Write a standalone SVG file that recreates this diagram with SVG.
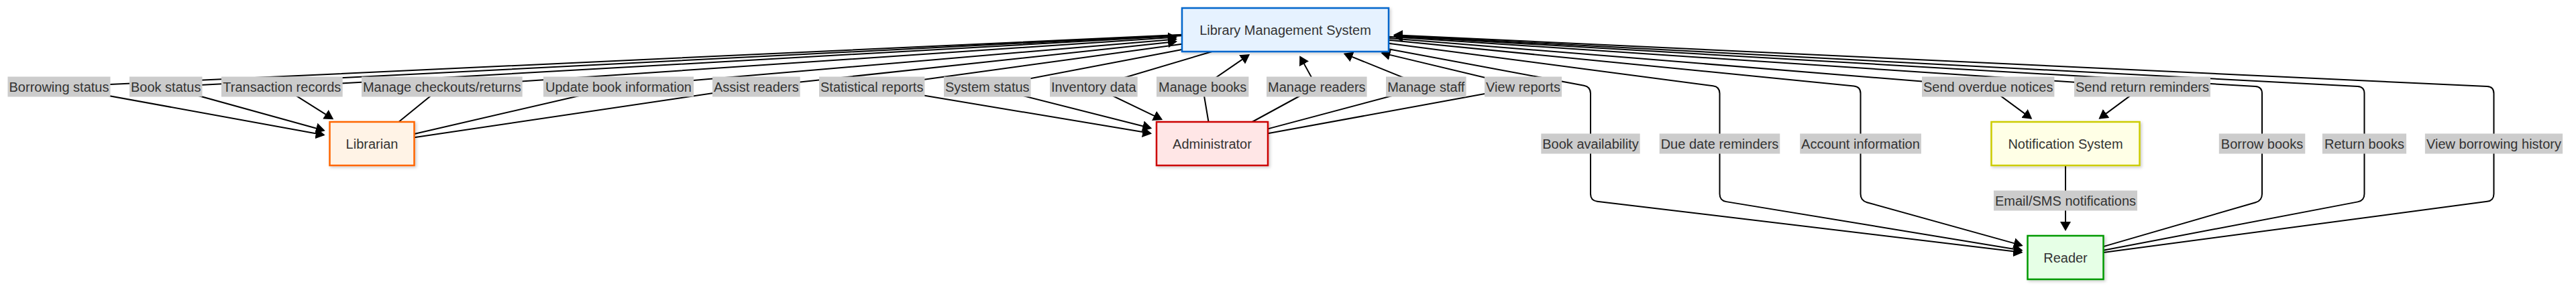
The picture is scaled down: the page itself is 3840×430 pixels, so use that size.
<svg xmlns="http://www.w3.org/2000/svg" width="3840" height="430" viewBox="0 0 3840 430">
<defs>
<style>
.node rect{stroke-width:2.5;filter:url(#shadow);}
.nt{font-family:"Liberation Sans",Arial,sans-serif;font-size:20px;fill:#333;text-anchor:middle;}
.edge{fill:none;stroke:#000;stroke-width:2;}
.arr{marker-end:url(#arrow);}
.lbl rect{fill:#cccccc;}
</style>
<marker id="arrow" viewBox="0 0 14 16" refX="12" refY="8" markerWidth="14" markerHeight="16" markerUnits="userSpaceOnUse" orient="auto"><path d="M0,0 L14,8 L0,16 z" fill="#000"/></marker>
<filter id="shadow" x="-10%" y="-10%" width="130%" height="140%"><feDropShadow dx="2" dy="2" stdDeviation="2" flood-color="#000" flood-opacity="0.2"/></filter>
</defs>
<rect x="0" y="0" width="3840" height="430" fill="#fff"/>
<g id="connectors">
<path class="edge arr" d="M1762,51.66 L88,129.5 L482.65,201.41"/>
<path class="edge arr" d="M1762,52.34 L247.2,129.5 L482.83,194.67"/>
<path class="edge arr" d="M1762,53.25 L420.3,129.5 L495.58,177.18"/>
<path class="edge arr" d="M594.38,182 L658.8,129.5 L1753.02,55.52"/>
<path class="edge arr" d="M617.5,199.93 L922,129.5 L1753.03,58.44"/>
<path class="edge arr" d="M617.5,205.15 L1127.3,129.5 L1753.05,62.06"/>
<path class="edge arr" d="M1762,65.74 L1299.7,129.5 L1715.12,199.1"/>
<path class="edge arr" d="M1762,73.97 L1471.8,129.5 L1715.28,191.24"/>
<path class="edge arr" d="M1806.75,77 L1630.3,129.5 L1731.32,178.1"/>
<path class="edge arr" d="M1801.53,182 L1792.7,129.5 L1861.44,82.11"/>
<path class="edge arr" d="M1866.58,182 L1962.8,129.5 L1938.24,84.88"/>
<path class="edge arr" d="M1890,192.37 L2125.8,129.5 L2004.57,80.38"/>
<path class="edge arr" d="M1890,199.28 L2270.5,129.5 L2060.31,79.1"/>
<path class="edge arr" d="M2070,56.99 L2963.7,129.5 L3027.67,176.66"/>
<path class="edge arr" d="M2070,54.75 L3193.5,129.5 L3130.01,176.63"/>
<path class="edge arr" d="M3079,247 L3079,343"/>
<path class="edge arr" d="M2070,73.27 L2361.17,127.66 Q2371,129.5 2371,139.5 L2371,289.5 Q2371,299.5 2380.93,300.69 L3013.56,376.65"/>
<path class="edge arr" d="M2070,64.72 L2553.59,128.2 Q2563.5,129.5 2563.5,139.5 L2563.5,289.5 Q2563.5,299.5 2573.37,301.13 L3013.62,373.72"/>
<path class="edge arr" d="M2070,59.77 L2763.55,128.51 Q2773.5,129.5 2773.5,139.5 L2773.5,289.5 Q2773.5,299.5 2783.13,302.18 L3013.83,366.37"/>
<path class="edge arr" d="M3135.5,368.11 L3362.4,302.29 Q3372,299.5 3372,289.5 L3372,139.5 Q3372,129.5 3362.02,128.92 L2078.98,54.01"/>
<path class="edge arr" d="M3135.5,373.72 L3514.68,301.37 Q3524.5,299.5 3524.5,289.5 L3524.5,139.5 Q3524.5,129.5 3514.51,128.97 L2078.99,53.11"/>
<path class="edge arr" d="M3135.5,376.98 L3707.59,300.82 Q3717.5,299.5 3717.5,289.5 L3717.5,139.5 Q3717.5,129.5 3707.51,129.03 L2078.99,52.19"/>
</g>
<g id="edge-labels" class="lbl">
<rect x="11.5" y="114.5" width="153" height="30"/><text class="nt" x="88" y="136.5">Borrowing status</text>
<rect x="193" y="114.5" width="108.5" height="30"/><text class="nt" x="247.2" y="136.5">Book status</text>
<rect x="330" y="114.5" width="180.7" height="30"/><text class="nt" x="420.3" y="136.5">Transaction records</text>
<rect x="539" y="114.5" width="239.7" height="30"/><text class="nt" x="658.8" y="136.5">Manage checkouts/returns</text>
<rect x="810" y="114.5" width="224.1" height="30"/><text class="nt" x="922" y="136.5">Update book information</text>
<rect x="1062" y="114.5" width="130.7" height="30"/><text class="nt" x="1127.3" y="136.5">Assist readers</text>
<rect x="1221" y="114.5" width="157.4" height="30"/><text class="nt" x="1299.7" y="136.5">Statistical reports</text>
<rect x="1407" y="114.5" width="129.6" height="30"/><text class="nt" x="1471.8" y="136.5">System status</text>
<rect x="1565" y="114.5" width="130.7" height="30"/><text class="nt" x="1630.3" y="136.5">Inventory data</text>
<rect x="1724" y="114.5" width="137.4" height="30"/><text class="nt" x="1792.7" y="136.5">Manage books</text>
<rect x="1888" y="114.5" width="149.6" height="30"/><text class="nt" x="1962.8" y="136.5">Manage readers</text>
<rect x="2066" y="114.5" width="119.6" height="30"/><text class="nt" x="2125.8" y="136.5">Manage staff</text>
<rect x="2213" y="114.5" width="115.1" height="30"/><text class="nt" x="2270.5" y="136.5">View reports</text>
<rect x="2865" y="114.5" width="197.4" height="30"/><text class="nt" x="2963.7" y="136.5">Send overdue notices</text>
<rect x="3092" y="114.5" width="203" height="30"/><text class="nt" x="3193.5" y="136.5">Send return reminders</text>
<rect x="2297.3" y="199.5" width="147.4" height="30"/><text class="nt" x="2371" y="221.5">Book availability</text>
<rect x="2473.7" y="199.5" width="179.6" height="30"/><text class="nt" x="2563.5" y="221.5">Due date reminders</text>
<rect x="2683.2" y="199.5" width="180.7" height="30"/><text class="nt" x="2773.5" y="221.5">Account information</text>
<rect x="3307.8" y="199.5" width="128.5" height="30"/><text class="nt" x="3372" y="221.5">Borrow books</text>
<rect x="3461.9" y="199.5" width="125.2" height="30"/><text class="nt" x="3524.5" y="221.5">Return books</text>
<rect x="3614.9" y="199.5" width="205.2" height="30"/><text class="nt" x="3717.5" y="221.5">View borrowing history</text>
<rect x="2972" y="284.5" width="214" height="30"/><text class="nt" x="3079" y="306.5">Email/SMS notifications</text>
</g>
<g id="node-lms" class="node"><rect x="1762" y="12" width="308" height="65" fill="#E6F2FF" stroke="#0066CC"/><text class="nt" x="1916" y="51.5">Library Management System</text></g>
<g id="node-librarian" class="node"><rect x="491.5" y="182" width="126" height="65" fill="#FFF3E6" stroke="#FF6600"/><text class="nt" x="554.5" y="221.5">Librarian</text></g>
<g id="node-admin" class="node"><rect x="1724" y="182" width="166" height="65" fill="#FFE6E6" stroke="#CC0000"/><text class="nt" x="1807" y="221.5">Administrator</text></g>
<g id="node-notification" class="node"><rect x="2968.5" y="182" width="221" height="65" fill="#FFFFE6" stroke="#CCCC00"/><text class="nt" x="3079" y="221.5">Notification System</text></g>
<g id="node-reader" class="node"><rect x="3022.5" y="352" width="113" height="65" fill="#E6FFE6" stroke="#009900"/><text class="nt" x="3079" y="391.5">Reader</text></g>
</svg>
